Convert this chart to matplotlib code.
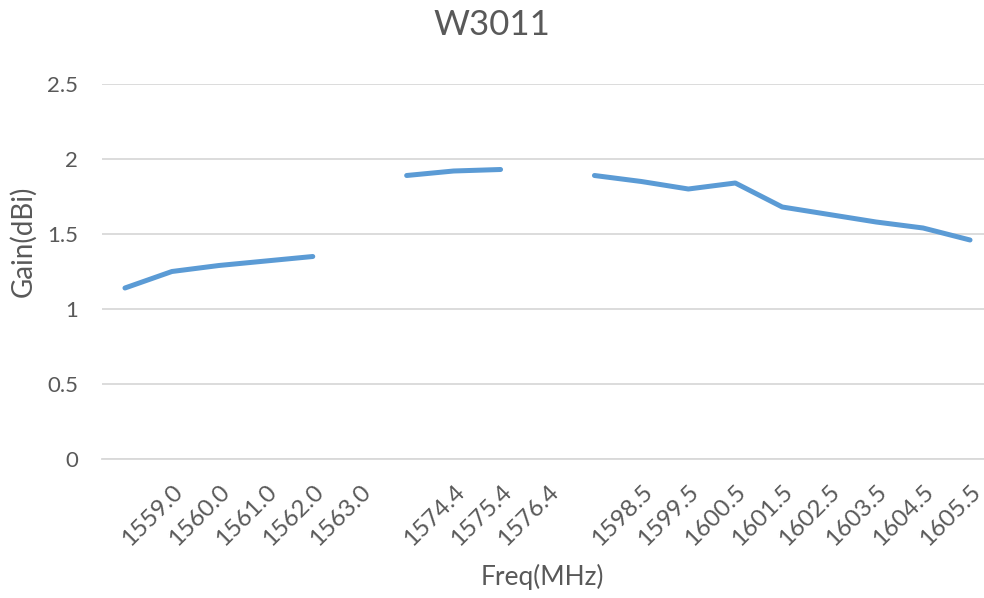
import numpy as np
import matplotlib
matplotlib.use("Agg")
import matplotlib.pyplot as plt

plt.rcParams['font.family'] = ['Lato', 'DejaVu Sans']

# category labels shown under the axis (blank entries = empty categories)
freq_labels = ['1559.0', '1560.0', '1561.0', '1562.0', '1563.0', '',
               '1574.4', '1575.4', '1576.4', '',
               '1598.5', '1599.5', '1600.5', '1601.5', '1602.5', '1603.5',
               '1604.5', '1605.5']

# gain per category, None = no measurement (gap in the line)
gain = [1.14, 1.25, 1.29, 1.32, 1.35, None,
        1.89, 1.92, 1.93, None,
        1.89, 1.85, 1.80, 1.84, 1.68, 1.63, 1.58, 1.54, 1.46]

text_color = '#595959'
grid_color = '#D9D9D9'
line_color = '#5B9BD5'

fig = plt.figure(figsize=(9.84, 5.98), dpi=100)
ax = fig.add_axes([101.5 / 984, 1 - 459 / 598, (984 - 101.5) / 984, 375 / 598])

x = np.arange(len(gain))
y = np.array([np.nan if v is None else v for v in gain], dtype=float)
ax.plot(x, y, color=line_color, lw=3.6, solid_capstyle='round',
        solid_joinstyle='round')

ax.set_xlim(-0.5, len(gain) - 0.5 - (993.5 - 984) / 46.94)
ax.set_ylim(0, 2.5)
ax.set_yticks([0, 0.5, 1, 1.5, 2, 2.5])
ax.set_yticklabels(['0', '0.5', '1', '1.5', '2', '2.5'])
ax.yaxis.grid(True, color=grid_color, lw=1.3)
ax.set_axisbelow(True)

ax.set_xticks(np.arange(1, len(freq_labels) + 1))
ax.set_xticklabels(freq_labels, rotation=45, ha='right', va='top',
                   rotation_mode='anchor')

for s in ax.spines.values():
    s.set_visible(False)
ax.spines['bottom'].set_visible(True)
ax.spines['bottom'].set_color(grid_color)
ax.spines['bottom'].set_linewidth(1.3)

ax.tick_params(axis='y', length=0, pad=17, labelsize=16, labelcolor=text_color)
ax.tick_params(axis='x', length=0, pad=16, labelsize=17.5, labelcolor=text_color)

ax.set_xlabel('Freq(MHz)', fontsize=19, color=text_color, labelpad=10)
ax.set_ylabel('Gain(dBi)', fontsize=20, color=text_color)
ax.yaxis.set_label_coords((36 - 101.5) / 882.5, 0.58)

fig.text(0.5, 1 - 25 / 598, 'W3011', ha='center', va='center',
         fontsize=25, color=text_color)

fig.savefig('out.png', dpi=100)
